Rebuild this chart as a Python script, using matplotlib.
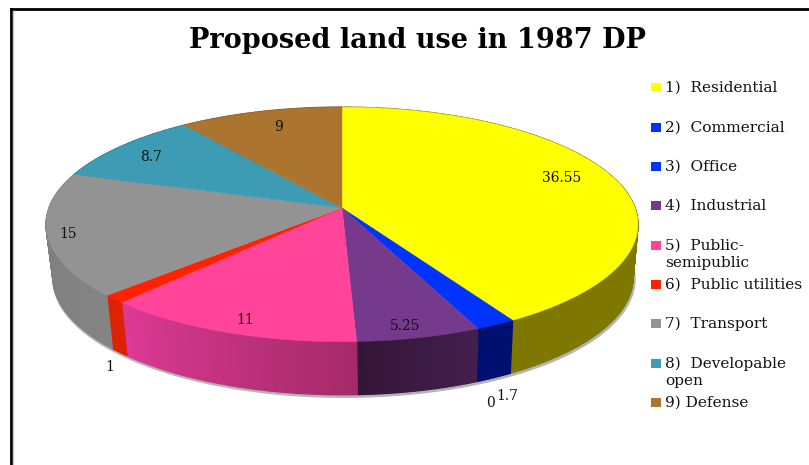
import numpy as np
import matplotlib
matplotlib.use("Agg")
import matplotlib.pyplot as plt
from matplotlib.patches import Polygon, Rectangle

title = "Proposed land use in 1987 DP"
values = [36.55, 1.7, 0, 5.25, 11, 1, 15, 8.7, 9]
value_labels = ["36.55", "1.7", "0", "5.25", "11", "1", "15", "8.7", "9"]
legend_labels = ["1)  Residential", "2)  Commercial", "3)  Office", "4)  Industrial",
                 "5)  Public-\nsemipublic", "6)  Public utilities", "7)  Transport",
                 "8)  Developable\nopen", "9) Defense"]

top_colors = ["#ffff00", "#0033ff", "#0033ff", "#763a8c", "#ff4499",
              "#ff2200", "#939393", "#3d9bb3", "#ab742f"]
wall_left = ["#7f7800", "#001070", "#001070", "#421f4e", "#a52a68",
             "#dc2200", "#848484", "#2a6f80", "#7a5220"]
wall_right = ["#7f7800", "#001070", "#001070", "#351638", "#dc3a94",
              "#dc2200", "#7c7c7c", "#2a6f80", "#7a5220"]

# label anchors in pixels
label_pos = [(562, 178), (507, 396), (491, 403), (405, 326), (245, 320),
             (110, 367), (68, 234), (151, 157), (279, 127)]
legend_y = [88, 128, 167, 206, 246, 285, 324, 364, 403]

# perspective pie geometry
cx, cy = 342, 208
R, H, k = 293, 115, 0.14
depth = 53
serif = "DejaVu Serif"


def project(theta):
    u, v = np.sin(theta), np.cos(theta)
    w = 1 + k * v
    return cx + R * u / w, cy - H * v / w


def blend(c1, c2, t):
    a = np.array(matplotlib.colors.to_rgb(c1))
    b = np.array(matplotlib.colors.to_rgb(c2))
    return a + (b - a) * t


fig = plt.figure(figsize=(8.09, 4.65), dpi=100)
ax = fig.add_axes([0, 0, 1, 1])
ax.set_xlim(0, 809)
ax.set_ylim(465, 0)
ax.axis("off")

# frame around the chart
ax.plot([11, 11], [465, 9], color="black", lw=2, zorder=1)
ax.plot([11, 809], [9, 9], color="black", lw=2, zorder=1)
ax.plot([13.5, 13.5], [465, 11], color="#c8c8c8", lw=1, zorder=1)

edges = np.cumsum([0] + values) / sum(values) * 2 * np.pi

# soft shadow under the rim
t = np.linspace(np.pi * 0.45, np.pi * 1.55, 200)
sx, sy = project(t)
ax.plot(cx + (sx - cx) * 0.98 + 2, sy + depth + 1.5, color="#b5b5b5", lw=2.5, zorder=2)

# walls first, the top face covers the back part
for i in range(len(values)):
    if values[i] == 0:
        continue
    t = np.linspace(edges[i], edges[i + 1], max(int(values[i] * 6), 3))
    x, y = project(t)
    xb = cx + (x - cx) * 0.98 + 1
    for j in range(len(t) - 1):
        col = blend(wall_left[i], wall_right[i], j / max(len(t) - 2, 1))
        ax.add_patch(Polygon([(x[j], y[j]), (x[j + 1], y[j + 1]),
                              (xb[j + 1], y[j + 1] + depth), (xb[j], y[j] + depth)],
                             fc=col, ec=col, lw=1.0, zorder=3))

# top face
for i in range(len(values)):
    if values[i] == 0:
        continue
    t = np.linspace(edges[i], edges[i + 1], max(int(values[i] * 6), 3))
    x, y = project(t)
    pts = [(cx, cy)] + list(zip(x, y))
    ax.add_patch(Polygon(pts, fc=top_colors[i], ec=top_colors[i], lw=0.3, zorder=4))

for lab, (lx, ly) in zip(value_labels, label_pos):
    ax.text(lx, ly, lab, fontsize=10, family=serif, ha="center", va="center",
            color="#111111", zorder=5)

ax.text(417, 41, title, fontsize=19.5, family=serif, weight="bold", ha="center",
        va="center", color="black")

for lab, col, ly in zip(legend_labels, top_colors, legend_y):
    ax.add_patch(Rectangle((651, ly - 5), 10.5, 8.5, fc=col, ec="none"))
    ax.text(665.5, ly - 7.5, lab, fontsize=11.1, family=serif, ha="left", va="top",
            color="#111111", linespacing=1.28)

fig.savefig("out.png", dpi=100)
